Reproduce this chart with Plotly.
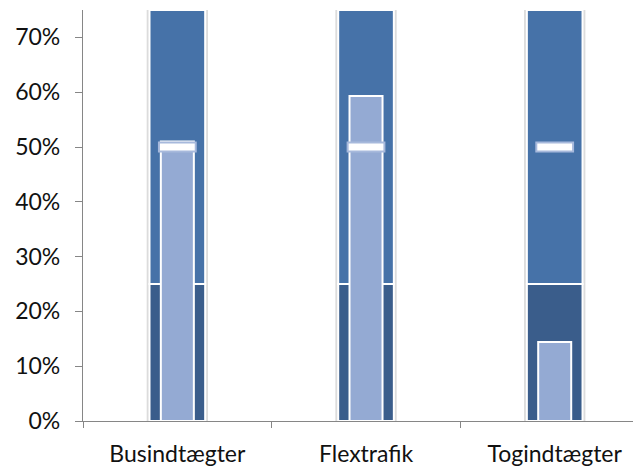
import plotly.graph_objects as go

# Bullet-chart data (shares of budget, as fractions)
categories = ["Busindtægter", "Flextrafik", "Togindtægter"]
actual = [0.51, 0.593, 0.144]
target = [0.50, 0.50, 0.50]
band_low = [0.25, 0.25, 0.25]      # lower qualitative band: 0 - 25 %
band_high = [0.75, 0.75, 0.75]     # upper qualitative band: 25 - 75 %
y_ticks = [0, 0.1, 0.2, 0.3, 0.4, 0.5, 0.6, 0.7]

DARK = "#3A5D8B"
MID = "#4672A8"
LIGHT = "#94AAD3"
TARGET_EDGE = "#A7B9DC"
GLOW = "#DCDCDC"

marker_h = 0.016  # thickness of the target marker, in axis units

fig = go.Figure()

# soft grey edge around each band column
fig.add_trace(go.Bar(
    x=categories, y=band_high, base=0, width=0.325,
    marker=dict(color=GLOW, line=dict(width=0)),
    hoverinfo="skip", showlegend=False,
))
# lower band
fig.add_trace(go.Bar(
    x=categories, y=band_low, base=0, width=0.295,
    marker=dict(color=DARK, line=dict(color="white", width=2)),
    showlegend=False,
))
# upper band
fig.add_trace(go.Bar(
    x=categories, y=[h - l for h, l in zip(band_high, band_low)], base=band_low,
    width=0.295,
    marker=dict(color=MID, line=dict(color="white", width=2)),
    showlegend=False,
))
# actual value
fig.add_trace(go.Bar(
    x=categories, y=actual, base=0, width=0.175,
    marker=dict(color=LIGHT, line=dict(color="white", width=2)),
    showlegend=False,
))
# target marker
fig.add_trace(go.Bar(
    x=categories, y=[marker_h] * len(target),
    base=[t - marker_h / 2 for t in target], width=0.195,
    marker=dict(color="white", line=dict(color=TARGET_EDGE, width=2)),
    showlegend=False,
))

axis_font = dict(family="Lato, Calibri, sans-serif", size=23, color="#111111")

fig.update_layout(
    width=633, height=471,
    margin=dict(l=83, r=0, t=10, b=50),
    barmode="overlay",
    plot_bgcolor="white", paper_bgcolor="white",
    xaxis=dict(
        type="category", range=[-0.5, 2.415],
        showline=True, linecolor="#868686", linewidth=1.3,
        ticks="outside", tickson="boundaries", ticklen=6, tickcolor="#868686",
        tickfont=axis_font, showgrid=False, zeroline=False,
        ticklabelstandoff=12,
    ),
    yaxis=dict(
        range=[0, 0.75], tickvals=y_ticks, tickformat=".0%",
        showline=True, linecolor="#868686", linewidth=1.3,
        ticks="outside", ticklen=7, tickcolor="#868686",
        tickfont=axis_font, showgrid=False, zeroline=False,
        ticklabelstandoff=10,
    ),
)

fig.write_html("out.html")
